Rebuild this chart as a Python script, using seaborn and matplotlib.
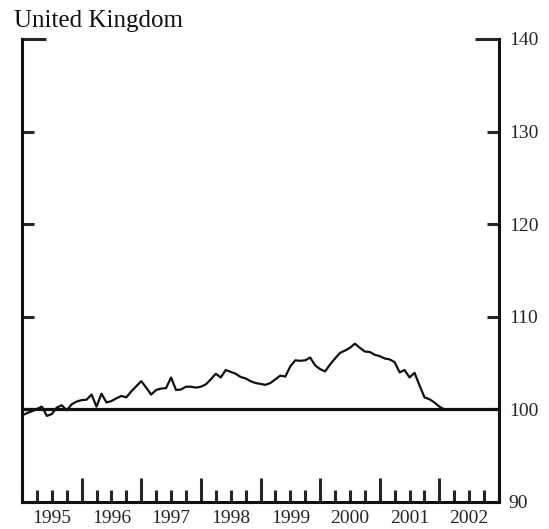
import pandas as pd
import numpy as np
import matplotlib
matplotlib.use("Agg")
import matplotlib.pyplot as plt
import seaborn as sns

# 월별 지수 (1995년 1월부터)
title = "United Kingdom"
start_month = "1995-01"
index_values = [
    99.35, 99.6, 99.8, 100.05, 100.3, 99.3, 99.5, 100.2, 100.45, 99.9,
    100.55, 100.85, 101.0, 101.05, 101.6, 100.3, 101.7, 100.75, 100.9, 101.2,
    101.45, 101.3, 101.95, 102.5, 103.05, 102.35, 101.6, 102.1, 102.25, 102.3,
    103.45, 102.1, 102.15, 102.45, 102.45, 102.35, 102.45, 102.7, 103.25, 103.85,
    103.45, 104.25, 104.05, 103.85, 103.5, 103.35, 103.05, 102.85, 102.75, 102.65,
    102.85, 103.25, 103.65, 103.55, 104.65, 105.3, 105.25, 105.3, 105.6, 104.75,
    104.35, 104.1, 104.85, 105.5, 106.1, 106.35, 106.65, 107.1, 106.65, 106.25,
    106.2, 105.9, 105.75, 105.5, 105.4, 105.1, 104.0, 104.25, 103.45, 103.95,
    102.6, 101.3, 101.1, 100.75, 100.3, 100.0,
]
years = list(range(1995, 2003))
y_ticks = [90, 100, 110, 120, 130, 140]
baseline = 100

dates = pd.date_range(start_month, periods=len(index_values), freq="MS")
df = pd.DataFrame({
    "t": dates.year + (dates.month - 1) / 12,
    "value": index_values,
})

sns.set_style("ticks")
plt.rcParams["font.family"] = ["Liberation Serif", "DejaVu Serif"]

fig = plt.figure(figsize=(5.49, 5.29), dpi=100)
ax = fig.add_axes([22 / 549, 1 - 502 / 529, 477 / 549, 463 / 529])

sns.lineplot(data=df, x="t", y="value", ax=ax, color="#111111", linewidth=1.6)
ax.axhline(baseline, color="#111111", linewidth=2.3, zorder=1)

ax.set_xlim(years[0], years[-1] + 1)
ax.set_ylim(y_ticks[0], y_ticks[-1])

# x축: 연도 경계에 긴 눈금, 분기마다 짧은 눈금, 라벨은 연도 중앙
ax.set_xticks(years + [years[-1] + 1])
ax.set_xticklabels([])
minor_pos = []
minor_lab = []
for y in years:
    for q, lab in [(0.25, ""), (0.5, str(y)), (0.75, "")]:
        minor_pos.append(y + q)
        minor_lab.append(lab)
ax.set_xticks(minor_pos, minor=True)
ax.set_xticklabels(minor_lab, minor=True, fontsize=14)
ax.tick_params(axis="x", which="major", direction="in", length=17, width=2.2)
ax.tick_params(axis="x", which="minor", direction="in", length=8.6, width=2.2, pad=6)

# y축: 양쪽 안쪽 눈금, 라벨은 오른쪽
ax.set_yticks(y_ticks)
ax.set_yticklabels([str(v) for v in y_ticks], fontsize=14)
ax.tick_params(axis="y", which="major", direction="in", length=8.6, width=2.2,
               left=True, right=True, labelleft=False, labelright=True, pad=7)
top_tick = ax.yaxis.get_major_ticks()[-1]
top_tick.tick1line.set_markersize(17)
top_tick.tick2line.set_markersize(17)

for side in ["left", "right", "bottom"]:
    ax.spines[side].set_linewidth(2.2)
    ax.spines[side].set_color("#111111")
ax.spines["top"].set_visible(False)

ax.set_xlabel("")
ax.set_ylabel("")

fig.text(14 / 549, 1 - 27 / 529, title, fontsize=18, ha="left", va="baseline",
         color="#111111")

fig.savefig("out.png", dpi=100)
